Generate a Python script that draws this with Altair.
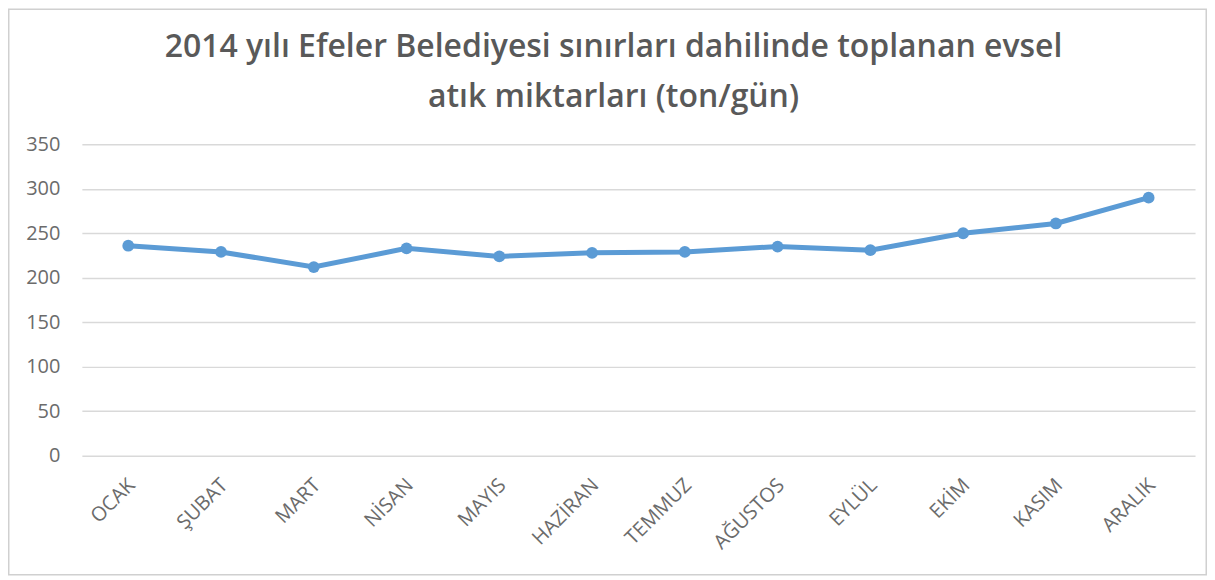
import altair as alt
import pandas as pd

months = ["OCAK", "ŞUBAT", "MART", "NİSAN", "MAYIS", "HAZİRAN",
          "TEMMUZ", "AĞUSTOS", "EYLÜL", "EKİM", "KASIM", "ARALIK"]
values = [236, 229, 212, 233, 224, 228, 229, 235, 231, 250, 261, 290]
y_ticks = [0, 50, 100, 150, 200, 250, 300, 350]
title_lines = ["2014 yılı Efeler Belediyesi sınırları dahilinde toplanan evsel",
               "atık miktarları (ton/gün)"]

df = pd.DataFrame({"ay": months, "ton": values})

W, H = 1115, 312
FONT = "Open Sans"
GRAY = "#595959"
BLUE = "#5B9BD5"

x_enc = alt.X("ay:N", sort=months, title=None,
              scale=alt.Scale(paddingInner=0, paddingOuter=0.5),
              axis=alt.Axis(labelAngle=-45, labelFont=FONT, labelFontSize=20,
                            labelColor="#6b6b6b", labelPadding=19, labelOffset=-4,
                            ticks=False, domain=False, grid=False))
y_enc = alt.Y("ton:Q", title=None,
              scale=alt.Scale(domain=[0, 350], nice=False, zero=True),
              axis=alt.Axis(values=y_ticks, labelFont=FONT, labelFontSize=20,
                            labelColor="#6b6b6b", labelPadding=22, ticks=False,
                            domain=False, grid=True, gridColor="#d9d9d9",
                            gridWidth=1.5))

line = alt.Chart(df).mark_line(color=BLUE, strokeWidth=5).encode(x=x_enc, y=y_enc)
pts = alt.Chart(df).mark_point(filled=True, color=BLUE, size=140, opacity=1).encode(x=x_enc, y=y_enc)

border = alt.Chart(alt.Data(values=[{"a": 1}])).mark_rect(
    fill=None, stroke="#d0d0d0", strokeWidth=1.5).encode(
    x=alt.value(-73.25), x2=alt.value(W + 11.25),
    y=alt.value(-135.25), y2=alt.value(H + 119.25))

chart = alt.layer(border, line, pts).properties(
    width=W, height=H,
    background="white",
    title=alt.Title(title_lines, font=FONT, fontSize=32, fontWeight=600,
                    color=GRAY, lineHeight=50, anchor="middle", offset=-106,
                    dx=-25),
    autosize=alt.AutoSizeParams(type="none"),
    padding={"left": 74, "top": 136, "right": 12, "bottom": 120},
).configure_view(stroke=None)

chart.save("out.html", embed_options={"renderer": "svg", "actions": False})
